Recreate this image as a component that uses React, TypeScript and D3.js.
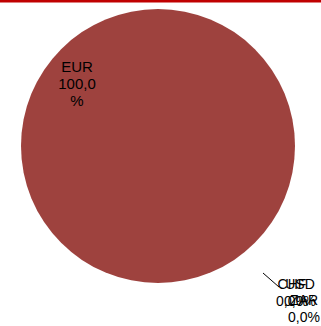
import React from "react";
import * as d3 from "d3";

const categories = ["EUR", "CHF", "USD", "ZAR"];
const values = [100, 0, 0, 0];
const percentLabels = ["100,0 %", "0,0%", "0,0%", "0,0%"];

const W = 321;
const H = 326;

export default function App() {
  const cx = 158;
  const cy = 146;
  const r = 137;
  const pie = d3.pie<number>().sort(null).value((d) => d);
  const arcs = pie(values);
  const arcGen = d3.arc<d3.PieArcDatum<number>>().innerRadius(0).outerRadius(r);

  // label layout (positions only)
  const smallLabelPos = [
    null,
    { x: 292, y: 289 },
    { x: 300, y: 289 },
    { x: 304, y: 305 },
  ];

  return (
    <svg
      width={W}
      height={H}
      style={{ position: "absolute", left: 0, top: 0, background: "#fff" }}
      fontFamily="'Liberation Sans', Arial, sans-serif"
    >
      <rect x={0} y={0} width={W} height={2.5} fill="#c00000" />
      <g transform={`translate(${cx},${cy})`}>
        {arcs.map((a, i) =>
          a.value > 0 ? (
            <path key={i} d={arcGen(a) || ""} fill="#9e423e" />
          ) : null
        )}
      </g>
      {/* main label */}
      <text x={77} y={72} fontSize={15} textAnchor="middle" fill="#000">
        {categories[0]}
      </text>
      <text x={77} y={89} fontSize={15} textAnchor="middle" fill="#000">
        {percentLabels[0].split(" ")[0]}
      </text>
      <text x={77} y={106} fontSize={15} textAnchor="middle" fill="#000">
        {percentLabels[0].split(" ")[1]}
      </text>
      {/* leader line */}
      <line x1={263} y1={273} x2={279} y2={287} stroke="#000" strokeWidth={1} />
      {categories.map((c, i) => {
        const p = smallLabelPos[i];
        if (!p) return null;
        return (
          <g key={c}>
            <text x={p.x} y={p.y} fontSize={14} textAnchor="middle" fill="#000">
              {c}
            </text>
            <text x={p.x} y={p.y + 16.5} fontSize={14} textAnchor="middle" fill="#000">
              {percentLabels[i]}
            </text>
          </g>
        );
      })}
    </svg>
  );
}
